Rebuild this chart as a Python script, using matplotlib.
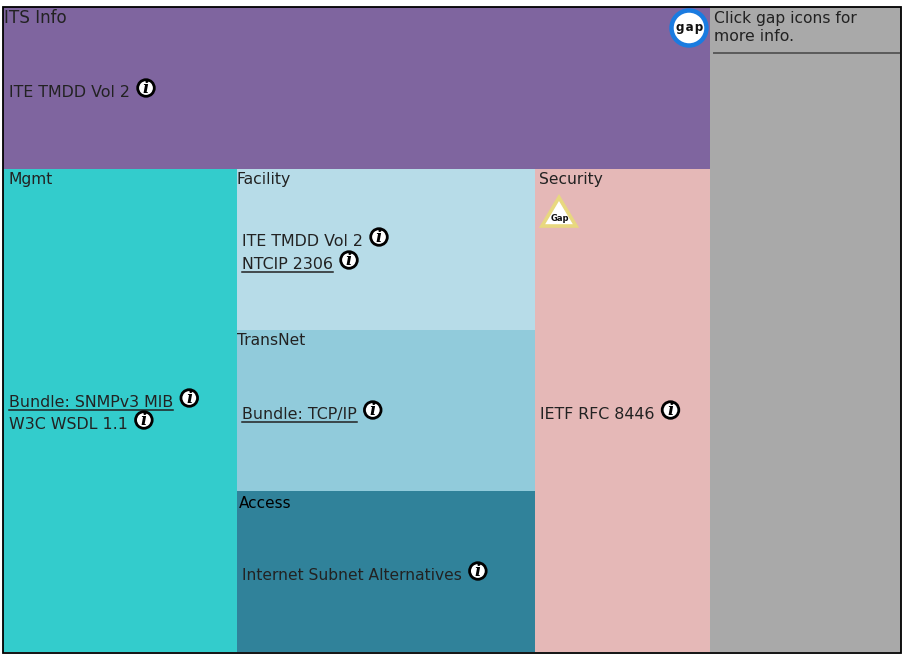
import matplotlib
matplotlib.use("Agg")
import matplotlib.pyplot as plt
from matplotlib.patches import Rectangle, Circle, Polygon
import numpy as np

W, H = 907, 655
col_names = ["Mgmt", "Stack", "Security"]
col_widths = [234, 298, 175]
top_height = 162
stack_names = ["Facility", "TransNet", "Access"]
stack_heights = [161, 161, 161]
side_width = 191
colors = {"ITS Info": "#7f659f", "Mgmt": "#33cccc", "Facility": "#b7dce8",
          "TransNet": "#91cbdb", "Access": "#30829a", "Security": "#e5b8b7",
          "side": "#a9a9a9"}
side_text = ["Click gap icons for", "more info."]
its_items = [("ITE TMDD Vol 2", False)]
mgmt_items = [("Bundle: SNMPv3 MIB", True), ("W3C WSDL 1.1", False)]
facility_items = [("ITE TMDD Vol 2", False), ("NTCIP 2306", True)]
transnet_items = [("Bundle: TCP/IP", True)]
access_items = [("Internet Subnet Alternatives", False)]
security_items = [("IETF RFC 8446", False)]

fig = plt.figure(figsize=(W / 100, H / 100), dpi=100, facecolor="white")
ax = fig.add_axes([0, 0, 1, 1])
ax.set_xlim(0, W)
ax.set_ylim(H, 0)
ax.axis("off")

x0, y0 = 3, 7
FS = 11.4
TC = "#222222"
fig.canvas.draw()
rend = fig.canvas.get_renderer()


def rect(x, y, w, h, c):
    ax.add_patch(Rectangle((x, y), w, h, fc=c, ec="none", zorder=1))


def label(x, y, s, **kw):
    return ax.text(x, y, s, fontsize=kw.pop("fs", FS), color=kw.pop("c", TC),
                   va="baseline", ha="left", zorder=3, **kw)


def info(cx, cy):
    ax.add_patch(Circle((cx, cy), 8.3, fc="white", ec="black", lw=2.0, zorder=4))
    ax.text(cx, cy + 0.2, "i", fontsize=12, family="DejaVu Serif", style="italic",
            weight="bold", color="black", ha="center", va="center", zorder=5)


def item(x, y, s, underline, fs=FS, gap=16, rise=5):
    t = label(x, y, s, fs=fs)
    wpx = t.get_window_extent(rend).width
    if underline:
        ax.plot([x, x + wpx], [y + 2.5, y + 2.5], color=TC, lw=1.1, zorder=3)
    info(x + wpx + gap, y - 4 - rise)


xs = np.cumsum([x0] + col_widths)
top_w = sum(col_widths)
body_y = y0 + top_height
ys = np.cumsum([body_y] + stack_heights)

rect(x0, y0, top_w, top_height, colors["ITS Info"])
rect(xs[0], body_y, col_widths[0], sum(stack_heights), colors["Mgmt"])
for i, n in enumerate(stack_names):
    rect(xs[1], ys[i], col_widths[1], stack_heights[i], colors[n])
rect(xs[2], body_y, col_widths[2], sum(stack_heights), colors["Security"])
rect(xs[3], y0, side_width, top_height + sum(stack_heights), colors["side"])

# Group headings
label(4, 23, "ITS Info", fs=12.1)
label(9, 184, "Mgmt", fs=11.2)
label(237, 184, "Facility", fs=11.3)
label(237, 345, "TransNet", fs=11.2)
label(239, 508, "Access", c="black", fs=11)
label(539, 184, "Security", fs=11.2)

# Items
item(9, 97, *its_items[0])
item(9, 407, *mgmt_items[0])
item(9, 429, *mgmt_items[1])
item(242, 246, *facility_items[0])
item(242, 269, *facility_items[1])
item(242, 419, *transnet_items[0])
item(242, 580, *access_items[0], fs=11.2)
item(540, 419, *security_items[0])

# Side note
label(714, 23, side_text[0], fs=11.15)
label(714, 41, side_text[1], fs=11.3)
ax.plot([714, 899], [52.5, 52.5], color="#5a5a5a", lw=1.4, zorder=3)

# Gap icons
ax.add_patch(Circle((689, 28), 17.5, fc="white", ec="#1a7be0", lw=3.2, zorder=4))
ax.text(689.5, 28, "g\u200aa\u200ap", fontsize=8.6, weight="bold", family="DejaVu Sans",
        color="#111111", ha="center", va="center", zorder=5)
ax.add_patch(Polygon([[559, 197.5], [576, 226], [542, 226]], closed=True, fc="white",
                     ec="#e8d87f", lw=2.6, zorder=4))
ax.text(559.5, 218.5, "Gap", fontsize=6, weight="bold", family="DejaVu Sans",
        color="#111111", ha="center", va="center", zorder=5)

# Outer frame
ax.add_patch(Rectangle((2.5, 7), 898.5, 645.5, fc="none", ec="black", lw=1.3, zorder=6))

fig.savefig("out.png", dpi=100, facecolor="white")
